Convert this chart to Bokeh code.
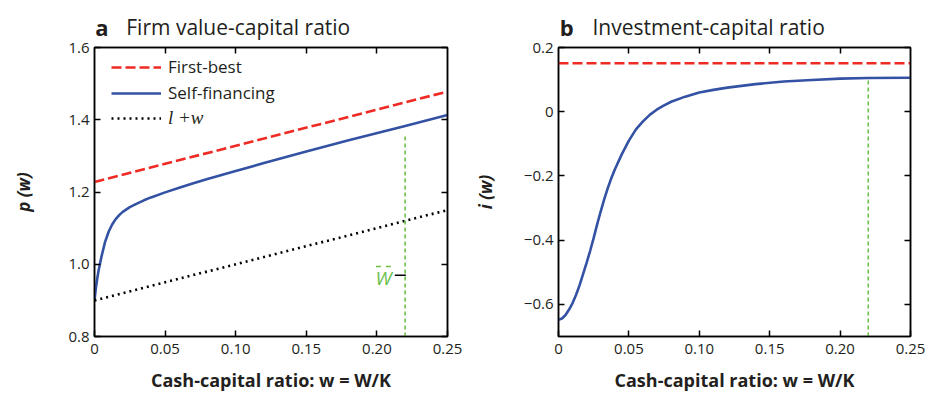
from bokeh.plotting import figure
from bokeh.layouts import row, column
from bokeh.models import (Range1d, LinearAxis, FixedTicker, Legend, LegendItem, Label)
from bokeh.core.properties import value
from bokeh.embed import file_html
from bokeh.resources import INLINE

# ---------------- data ----------------
w_line = [0.0, 0.25]
first_best_p = [1.228, 1.478]
liq_p = [0.900, 1.150]          # l + w

w_sf = [0, 0.001, 0.002, 0.003, 0.005, 0.0075, 0.01, 0.0125, 0.015, 0.0175, 0.02,
        0.025, 0.03, 0.035, 0.04, 0.05, 0.06, 0.07, 0.08, 0.10, 0.12, 0.15, 0.18,
        0.22, 0.25]
p_sf = [0.900, 0.935, 0.962, 0.985, 1.022, 1.062, 1.090, 1.110, 1.125, 1.136, 1.145,
        1.158, 1.168, 1.177, 1.185, 1.199, 1.212, 1.224, 1.236, 1.258, 1.280, 1.312,
        1.343, 1.383, 1.413]

first_best_i = [0.151, 0.151]
w_sf_i = [0, 0.0025, 0.005, 0.0075, 0.01, 0.0125, 0.015, 0.0175, 0.02, 0.0225, 0.025,
          0.0275, 0.03, 0.0325, 0.035, 0.0375, 0.04, 0.045, 0.05, 0.055, 0.06, 0.065,
          0.07, 0.075, 0.08, 0.09, 0.10, 0.11, 0.12, 0.14, 0.16, 0.18, 0.20, 0.22, 0.25]
i_sf = [-0.648, -0.644, -0.633, -0.616, -0.596, -0.570, -0.540, -0.505, -0.470, -0.433,
        -0.393, -0.350, -0.310, -0.272, -0.238, -0.207, -0.180, -0.132, -0.090, -0.055,
        -0.030, -0.009, 0.007, 0.020, 0.031, 0.047, 0.060, 0.068, 0.075, 0.086, 0.094,
        0.099, 0.103, 0.105, 0.106]

w_bar = 0.22
wbar_line_a = [0.8, 1.36]
wbar_line_b = [-0.7, 0.105]

x_ticks = [0, 0.05, 0.10, 0.15, 0.20, 0.25]
x_tick_labels = ["0", "0.05", "0.10", "0.15", "0.20", "0.25"]
ya_ticks = [0.8, 1.0, 1.2, 1.4, 1.6]
ya_tick_labels = ["0.8", "1.0", "1.2", "1.4", "1.6"]
yb_ticks = [-0.6, -0.4, -0.2, 0, 0.2]
yb_tick_labels = ["\u22120.6", "\u22120.4", "\u22120.2", "0", "0.2"]

panel_letters = ["a", "b"]
panel_titles = ["Firm value-capital ratio", "Investment-capital ratio"]

RED = "#ee2a24"
BLUE = "#3452a4"
GREEN = "#6cc04a"
INK = "#231f20"
FONT = "Open Sans"
XLABEL = "Cash-capital ratio: w = W/K"
HEADER_H = 40


def style(p, yt, ytl, ylabel, ylabel_standoff):
    p.outline_line_color = "black"
    p.outline_line_width = 1.5
    p.xgrid.visible = False
    p.ygrid.visible = False
    for ax in p.xaxis:
        ax.ticker = FixedTicker(ticks=x_ticks)
        ax.major_label_overrides = dict(zip(x_ticks, x_tick_labels))
        ax.axis_label = XLABEL
        ax.axis_label_text_font = FONT
        ax.axis_label_text_font_style = "bold"
        ax.axis_label_text_font_size = "18px"
        ax.axis_label_standoff = 11
    for ax in p.yaxis:
        ax.ticker = FixedTicker(ticks=yt)
        ax.major_label_overrides = dict(zip(yt, ytl))
        ax.axis_label = ylabel
        ax.axis_label_text_font = FONT
        ax.axis_label_text_font_style = "bold italic"
        ax.axis_label_text_font_size = "17px"
        ax.axis_label_standoff = ylabel_standoff
    for ax in list(p.xaxis) + list(p.yaxis):
        ax.major_label_text_font = FONT
        ax.major_label_text_font_size = "15px"
        ax.major_label_text_color = INK
        ax.major_label_standoff = 5
        ax.axis_line_width = 1.5
        ax.major_tick_line_width = 1.5
        ax.major_tick_in = 6
        ax.major_tick_out = 0
        ax.minor_tick_line_color = None
        ax.axis_label_text_color = INK
    for ax in p.xaxis:
        ax.major_label_standoff = 7
    # mirror axes (ticks only, labels not drawn)
    top = LinearAxis(ticker=FixedTicker(ticks=x_ticks[1:-1]),
                     major_label_text_font_size="1px", major_label_text_color=None,
                     major_tick_in=6, major_tick_out=0, minor_tick_line_color=None,
                     axis_line_width=1.5, major_tick_line_width=1.5,
                     major_label_standoff=0)
    right = LinearAxis(ticker=FixedTicker(ticks=yt),
                       major_label_text_font_size="1px", major_label_text_color=None,
                       major_tick_in=6, major_tick_out=0, minor_tick_line_color=None,
                       axis_line_width=1.5, major_tick_line_width=1.5,
                       major_label_standoff=0)
    p.add_layout(top, "above")
    p.add_layout(right, "right")


def header(width, letter, title, x_letter, x_title):
    # the header's frame is aligned with the panel frame below it (same x range)
    h = figure(width=width, height=HEADER_H, output_backend="svg", toolbar_location=None,
               title=None, x_axis_type=None, y_axis_type=None,
               x_range=Range1d(0, 0.25), y_range=Range1d(0, HEADER_H),
               min_border=0, min_border_left=0, min_border_right=0,
               min_border_top=0, min_border_bottom=0)
    h.grid.visible = False
    h.outline_line_color = None
    h.text(x=[x_letter], y=[14], text=[letter], text_font=value(FONT),
           text_font_style="bold", text_font_size="22px", text_color=INK,
           text_baseline="middle")
    h.text(x=[x_title], y=[13.5], text=[title], text_font=value(FONT),
           text_font_size="21px", text_color=INK, text_baseline="middle")
    return h


# ---------------- panel a ----------------
pa = figure(width=465, height=394 - HEADER_H, output_backend="svg", toolbar_location=None,
            x_range=Range1d(0, 0.25), y_range=Range1d(0.8, 1.6),
            min_border_left=94, min_border_right=18, min_border_top=47 - HEADER_H,
            min_border_bottom=53)
style(pa, ya_ticks, ya_tick_labels, "p (w)", 30)

r_fb = pa.line(w_line, first_best_p, line_color=RED, line_width=2.6, line_dash="10 4")
r_sf = pa.line(w_sf, p_sf, line_color=BLUE, line_width=2.6)
r_lw = pa.line(w_line, liq_p, line_color="black", line_width=2.6, line_dash="2 4")
pa.line([w_bar, w_bar], wbar_line_a, line_color=GREEN, line_width=1.6, line_dash="4 3")

leg1 = Legend(items=[LegendItem(label="First-best", renderers=[r_fb]),
                     LegendItem(label="Self-financing", renderers=[r_sf])],
              location=(17, 232), padding=0, margin=0, spacing=3,
              glyph_width=50, glyph_height=20, label_height=20,
              label_standoff=7, label_text_font=FONT, label_text_font_size="17px",
              label_text_color=INK,
              border_line_color=None, background_fill_alpha=0)
leg2 = Legend(items=[LegendItem(label="l +w", renderers=[r_lw])],
              location=(17, 207), padding=0, margin=0, spacing=3,
              glyph_width=50, glyph_height=20, label_height=20,
              label_standoff=7, label_text_font="Liberation Serif",
              label_text_font_style="italic", label_text_font_size="19px",
              label_text_color=INK,
              border_line_color=None, background_fill_alpha=0)
pa.add_layout(leg1)
pa.add_layout(leg2)

# W-bar marker
pa.add_layout(Label(x=0.2047, y=0.962, text="W", text_color=GREEN, text_font=FONT,
                    text_font_style="italic", text_font_size="19px",
                    text_align="center", text_baseline="middle"))
pa.segment(x0=[0.1993], y0=[0.994], x1=[0.2103], y1=[0.994], line_color=GREEN,
           line_width=1.5, line_dash="5 5")
pa.segment(x0=[0.2127], y0=[0.9695], x1=[0.2205], y1=[0.9695], line_color="black",
           line_width=1.3)

# ---------------- panel b ----------------
pb = figure(width=464, height=394 - HEADER_H, output_backend="svg", toolbar_location=None,
            x_range=Range1d(0, 0.25), y_range=Range1d(-0.7, 0.2),
            min_border_left=93, min_border_right=19, min_border_top=47 - HEADER_H,
            min_border_bottom=53)
style(pb, yb_ticks, yb_tick_labels, "i (w)", 24)
pb.line(w_line, first_best_i, line_color=RED, line_width=2.6, line_dash="10 4")
pb.line(w_sf_i, i_sf, line_color=BLUE, line_width=2.6)
pb.line([w_bar, w_bar], wbar_line_b, line_color=GREEN, line_width=1.6, line_dash="4 3")

ha = header(465, panel_letters[0], panel_titles[0], 0.0005, 0.0225)
hb = header(464, panel_letters[1], panel_titles[1], 0.0009, 0.0241)

layout = row(column(ha, pa), column(hb, pb))
open("out.html", "w").write(file_html(layout, INLINE))
